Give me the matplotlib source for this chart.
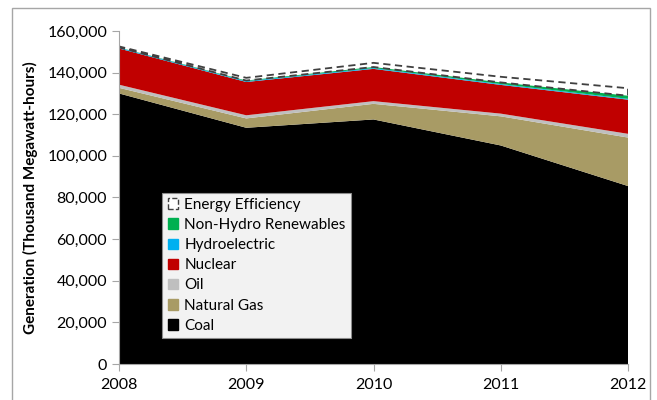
import matplotlib
matplotlib.use("Agg")
import matplotlib.pyplot as plt
from matplotlib.patches import Patch, Rectangle
from matplotlib.ticker import FuncFormatter

years = [2008, 2009, 2010, 2011, 2012]
coal = [130000, 113500, 117500, 105000, 85500]
natural_gas = [2700, 4500, 7500, 14000, 23300]
oil = [1500, 1500, 1300, 1300, 1800]
nuclear = [17400, 16000, 15500, 13800, 16400]
hydro = [400, 400, 400, 400, 400]
renewables = [100, 300, 500, 800, 1500]
energy_eff = [500, 1300, 2000, 2700, 3600]

labels = ["Coal", "Natural Gas", "Oil", "Nuclear", "Hydroelectric", "Non-Hydro Renewables"]
colors = ["#000000", "#A89B65", "#BFBFBF", "#C00000", "#00B0F0", "#00B050"]

plt.rcParams['font.family'] = ['Lato', 'DejaVu Sans']

fig = plt.figure(figsize=(6.57, 4.00), dpi=100)
ax = fig.add_axes([119/657, 1-364/400, (628-119)/657, (364-31)/400])

series = [coal, natural_gas, oil, nuclear, hydro, renewables]
ax.stackplot(years, *series, colors=colors, linewidth=0)

base = [sum(v) for v in zip(*series)]
top = [b + e for b, e in zip(base, energy_eff)]
ax.fill_between(years, base, top, facecolor='none', edgecolor='#404040',
                linestyle=(0, (4, 2.5)), linewidth=1.3)

ax.set_xlim(2008, 2012)
ax.set_ylim(0, 160000)
ax.set_xticks(years)
ax.set_xticklabels([str(y) for y in years])
ax.set_yticks(range(0, 160001, 20000))
ax.yaxis.set_major_formatter(FuncFormatter(lambda v, p: f"{int(v):,}"))
ax.tick_params(axis='both', labelsize=11.5, color='#A6A6A6', length=5, direction='out')
ax.tick_params(axis='x', pad=5)
for s in ['top', 'right']:
    ax.spines[s].set_visible(False)
for s in ['left', 'bottom']:
    ax.spines[s].set_color('#A6A6A6')
ax.set_ylabel("Generation (Thousand Megawatt-hours)", fontsize=11, fontweight='bold', labelpad=7)

handles = [Patch(facecolor='white', edgecolor='#404040', linestyle='--', linewidth=1.0, label="Energy Efficiency")]
for lab, col in reversed(list(zip(labels, colors))):
    handles.append(Patch(facecolor=col, edgecolor=col, label=lab))
leg = ax.legend(handles=handles, loc='lower left', bbox_to_anchor=(0.085, 0.078),
                fontsize=11, frameon=True, fancybox=False, handlelength=0.7, handleheight=0.7,
                handletextpad=0.4, labelspacing=0.4, borderpad=0.35, borderaxespad=0)
leg.get_frame().set_facecolor('#F2F2F2')
leg.get_frame().set_edgecolor('#8C8C8C')
leg.get_frame().set_linewidth(0.8)
leg.get_frame().set_alpha(1)

fig.patches.append(Rectangle((12/657, -0.05), (650-12)/657, 1.03, transform=fig.transFigure,
                             facecolor='none', edgecolor='#A6A6A6', linewidth=1.0))

fig.savefig("out.png", dpi=100)
